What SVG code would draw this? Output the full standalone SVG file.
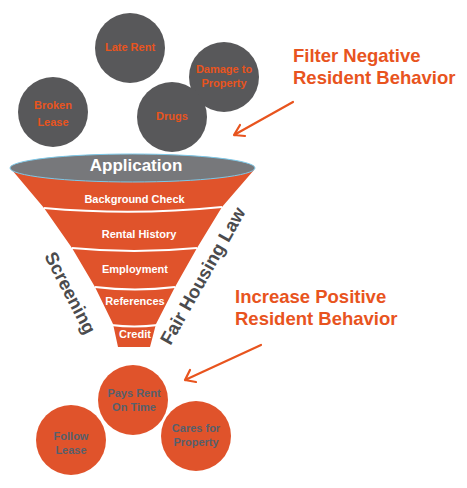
<svg xmlns="http://www.w3.org/2000/svg" width="467" height="488" viewBox="0 0 467 488">
<defs>
<style>
.t{font-family:"Liberation Sans",Arial,sans-serif;font-weight:bold;text-anchor:middle}
.neg{fill:#58585a}
.negt{fill:#e8541e;font-size:11px}
.pos{fill:#e0532b}
.post{fill:#56606b;font-size:11px}
.band{fill:#ffffff;font-size:11px}
.head{fill:#e8541e;font-size:18.5px;text-anchor:start}
.side{fill:#4b4b4d;font-size:18.5px}
.sep{fill:none;stroke:#ffffff;stroke-width:2.2}
.arr{fill:none;stroke:#e8541e;stroke-width:2.2;stroke-linecap:round;stroke-linejoin:round}
</style>
</defs>
<rect width="467" height="488" fill="#ffffff"/>

<g id="late-rent"><circle class="neg" cx="130" cy="48" r="35"/><text class="t negt" x="130" y="51">Late Rent</text></g>
<g id="broken-lease"><circle class="neg" cx="53" cy="112" r="35"/><text class="t negt" x="53" y="109">Broken</text><text class="t negt" x="53" y="126">Lease</text></g>
<g id="damage"><circle class="neg" cx="224" cy="77" r="35"/><text class="t negt" x="224" y="73">Damage to</text><text class="t negt" x="224" y="87">Property</text></g>
<g id="drugs"><circle class="neg" cx="172" cy="117" r="35"/><text class="t negt" x="172" y="120">Drugs</text></g>

<g id="filter-label"><text class="t head" x="293" y="62">Filter Negative</text><text class="t head" x="293" y="84">Resident Behavior</text></g>

<g id="funnel">
<path fill="#e0532b" d="M12,170 L254,170 L222,207 L197,248 L175,287 L156,324 L150,347 L118,347 L113,324 L95,287 L72,248 L44,208 Z"/>
<path class="sep" d="M44,208 Q133,216 222,207"/>
<path class="sep" d="M72,248 Q134,254 197,248"/>
<path class="sep" d="M95,287 Q135,292 175,287"/>
<path class="sep" d="M111,325 Q134,328 158,325"/>
<ellipse cx="132.5" cy="168" rx="122.5" ry="14" fill="#77787b" stroke="#7cc8e8" stroke-width="1"/>
<text class="t" x="136" y="171" fill="#ffffff" font-size="17">Application</text>
<text class="t band" x="134.5" y="203">Background Check</text>
<text class="t band" x="139" y="238">Rental History</text>
<text class="t band" x="135" y="273">Employment</text>
<text class="t band" x="135" y="305">References</text>
<text class="t band" x="135" y="338">Credit</text>
</g>

<g id="screening"><text class="t side" transform="translate(70,293) rotate(62.5)" y="6">Screening</text></g>
<g id="fair-housing"><text class="t side" transform="translate(203,276) rotate(-60.6)" y="6">Fair Housing Law</text></g>

<g id="increase-label"><text class="t head" x="235" y="303">Increase Positive</text><text class="t head" x="235" y="325">Resident Behavior</text></g>

<g id="pays-rent"><circle class="pos" cx="133" cy="400" r="35"/><text class="t post" x="134" y="397">Pays Rent</text><text class="t post" x="134" y="411">On Time</text></g>
<g id="follow-lease"><circle class="pos" cx="71" cy="440" r="35"/><text class="t post" x="71" y="440">Follow</text><text class="t post" x="71" y="454">Lease</text></g>
<g id="cares"><circle class="pos" cx="196" cy="436" r="35"/><text class="t post" x="196" y="432">Cares for</text><text class="t post" x="196" y="446">Property</text></g>

<g id="connectors">
<path class="arr" d="M293,102 L234,135 M234,135 L240,125 M234,135 L245,136"/>
<path class="arr" d="M261,345 L185,380 M185,380 L190,370 M185,380 L196,382"/>
</g>
</svg>
